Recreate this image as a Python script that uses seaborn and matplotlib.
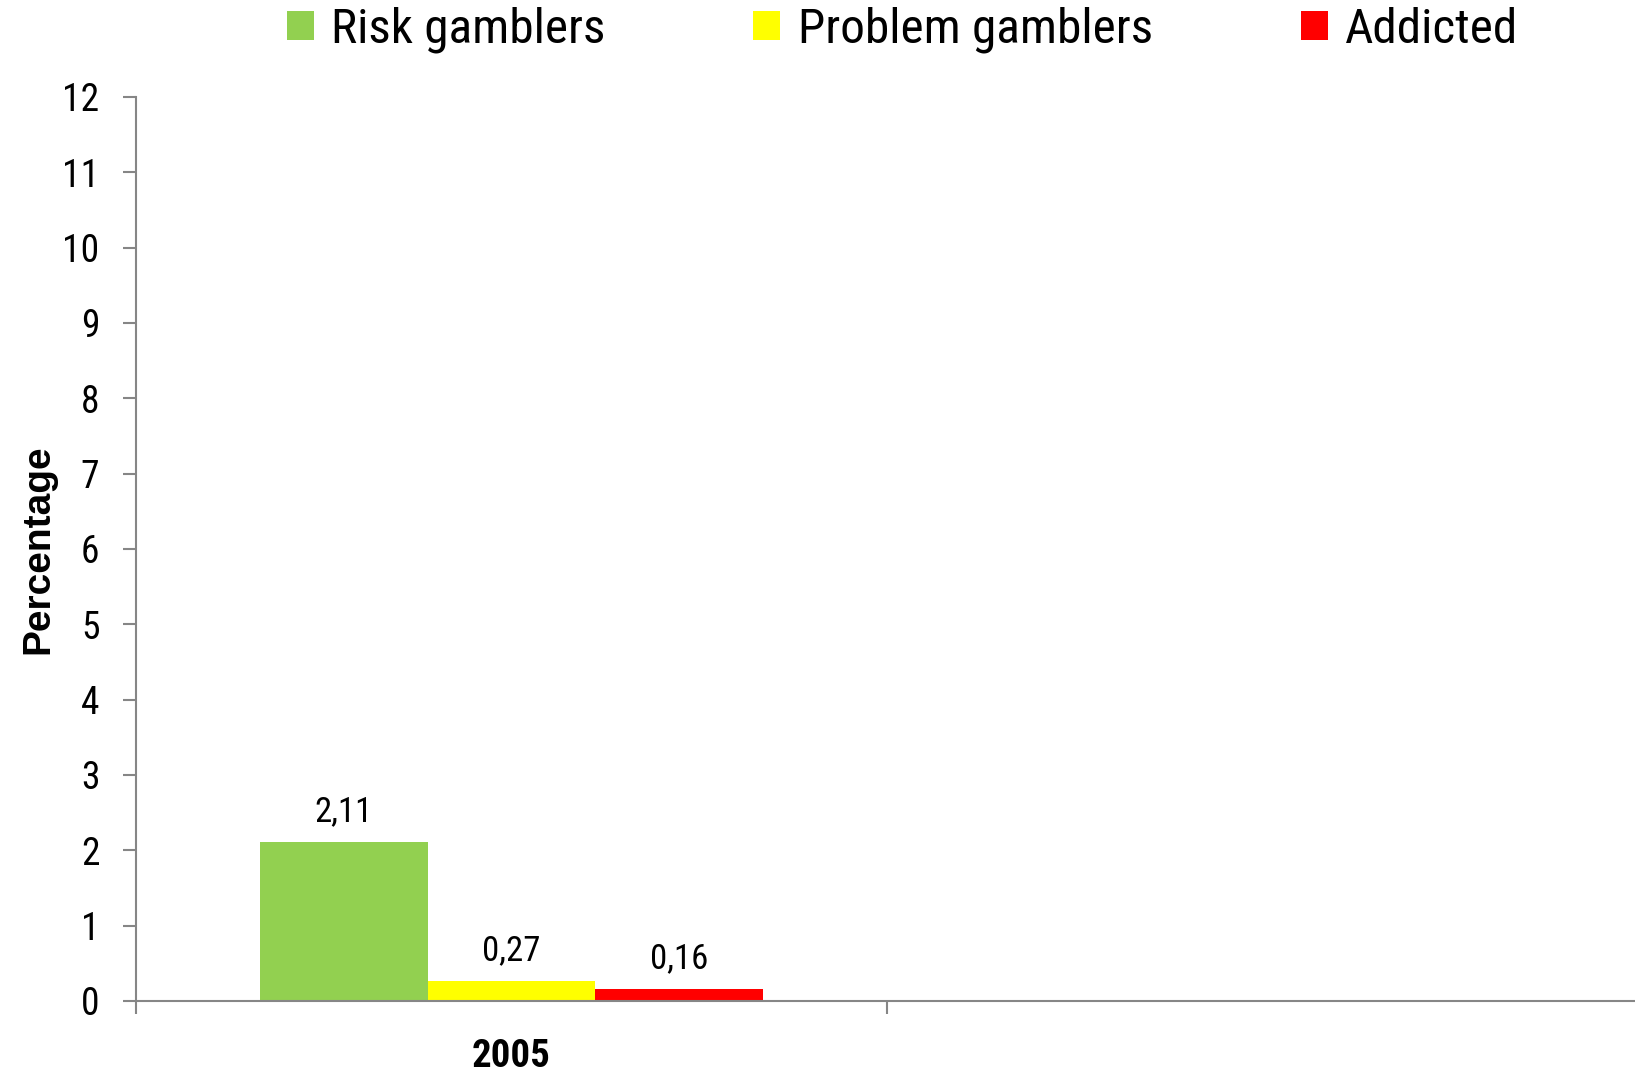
import numpy as np
import pandas as pd
import seaborn as sns
import matplotlib.pyplot as plt
from matplotlib import font_manager as fm
from matplotlib.font_manager import FontProperties

# data
years = ["2005", ""]
groups = ["Risk gamblers", "Problem gamblers", "Addicted"]
values_2005 = [2.11, 0.27, 0.16]
colors = ["#92D050", "#FFFF00", "#FF0000"]
y_ticks = list(range(0, 13))

df = pd.DataFrame({"year": "2005", "group": groups, "pct": values_2005})


def narrow_font(bold=False):
    # look for an Arial Narrow-like face among the installed fonts
    prefs = ["liberation sans narrow", "arial narrow", "roboto condensed",
             "noto sans condensed", "noto sans", "open sans condensed",
             "dejavu sans condensed", "dejavu sans"]
    want = 700 if bold else 400
    best = None
    for f in fm.fontManager.ttflist:
        key = (f.name + " " + f.fname).lower()
        if not ("narrow" in key or "condensed" in key or f.stretch == "condensed"):
            continue
        if "extra" in key or "semi" in key or "semicondensed" in key:
            continue
        if f.style != "normal" or "italic" in key:
            continue
        w = f.weight if isinstance(f.weight, int) else (700 if "bold" in str(f.weight) else 400)
        if abs(w - want) > 50:
            continue
        rank = len(prefs)
        for i, p in enumerate(prefs):
            if p in key:
                rank = i
                break
        if best is None or rank < best[0]:
            best = (rank, f.fname)
    return best[1] if best else None


reg_path = narrow_font(False)
bold_path = narrow_font(True)


def fp(size, bold=False):
    path = bold_path if bold else reg_path
    if path:
        return FontProperties(fname=path, size=size)
    return FontProperties(family=["Liberation Sans", "DejaVu Sans"], size=size * 0.82,
                          weight="bold" if bold else "normal")


sns.set_style("white")
plt.rcParams["font.family"] = ["Liberation Sans", "DejaVu Sans"]
plt.rcParams["text.color"] = "black"

fig = plt.figure(figsize=(16.35, 10.74), dpi=100)
ax = fig.add_axes([0.0832, 0.068, 0.9186, 0.8417])

sns.barplot(data=df, x="year", y="pct", hue="group", order=years,
            hue_order=groups, palette=colors, width=0.67, gap=0,
            linewidth=0, saturation=1, ax=ax)

# value labels with decimal comma
for c in ax.containers:
    ax.bar_label(c, fmt=lambda v: f"{v:.2f}".replace(".", ","), padding=10,
                 fontproperties=fp(25), color="black")

ax.set_xlim(-0.5, 1.5)
ax.set_ylim(0, 12)
ax.set_yticks(y_ticks)
ax.set_yticklabels([str(t) for t in y_ticks], fontproperties=fp(27))

# category boundaries as major ticks, names on minor ticks
ax.set_xticks([-0.5, 0.5, 1.5], labels=["", "", ""])
ax.set_xticks([0, 1], labels=years, minor=True)
for lbl in ax.get_xticklabels(minor=True):
    lbl.set_fontproperties(fp(28, bold=True))
ax.set_xlabel("")

grey = "#868686"
for s in ["top", "right"]:
    ax.spines[s].set_visible(False)
for s in ["left", "bottom"]:
    ax.spines[s].set_color(grey)
    ax.spines[s].set_linewidth(1.5)
ax.tick_params(axis="both", which="major", direction="out", length=9.4,
               width=1.5, color=grey, labelcolor="black", bottom=True, left=True)
ax.tick_params(axis="y", pad=17)
ax.tick_params(axis="x", which="minor", length=0, pad=27, bottom=True,
               labelcolor="black")

ax.set_ylabel("Percentage", color="black", fontproperties=FontProperties(
    family=["Liberation Sans", "DejaVu Sans"], size=28, weight="bold"))
ax.yaxis.set_label_coords(-0.0533, 0.5)

handles, labels = ax.get_legend_handles_labels()
if ax.get_legend() is not None:
    ax.get_legend().remove()
leg = fig.legend(handles, labels, loc="center", bbox_to_anchor=(0.552, 0.972),
                 ncol=3, frameon=False, prop=fp(35.5),
                 handlelength=0.55, handleheight=0.55, handletextpad=0.35,
                 columnspacing=3.0, borderaxespad=0, borderpad=0)
for t in leg.get_texts():
    t.set_color("black")

fig.savefig("out.png", dpi=100)
